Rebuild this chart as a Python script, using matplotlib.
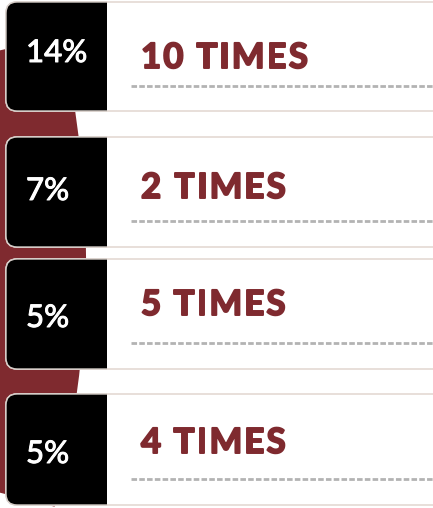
import matplotlib
matplotlib.use('Agg')
import matplotlib.pyplot as plt
import matplotlib.patheffects as pe
from matplotlib.patches import FancyBboxPatch, Rectangle, Wedge
from matplotlib.font_manager import FontProperties

# ---- data ----
shares = [14, 7, 5, 5]
multipliers = [10, 2, 5, 4]
pct_labels = [f"{v}%" for v in shares]
labels = [f"{m} TIMES" for m in multipliers]

# ---- layout ----
W, H = 433, 508
RED = '#7f2a2f'
card_top = [2, 137, 259, 394]
card_bot = [111, 247, 369, 505]
pct_base = [62, 200, 327, 463]
lab_base = [68, 198, 315, 453]
dash_y = [86, 221, 343, 479]

fig = plt.figure(figsize=(W / 100, H / 100), dpi=100)
ax = fig.add_axes([0, 0, 1, 1])
ax.set_xlim(0, W)
ax.set_ylim(H, 0)
ax.axis('off')

# background decorative disc
ax.add_patch(Wedge((-914, 258), 1000, -12.8, 14.4, facecolor=RED, edgecolor='none', zorder=1))

renderer = fig.canvas.get_renderer()
lab_fp = FontProperties(family='Lato', weight='bold', size=25)
pct_fp = FontProperties(family='Lato', weight='normal', size=22.5)


def txt_w(s, fp):
    w, h, d = renderer.get_text_width_height_descent(s, fp, ismath=False)
    return w


def adv(prefix, fp):
    if not prefix:
        return 0.0
    return txt_w(prefix + 'I', fp) - txt_w('I', fp)


natural = txt_w(labels[0], lab_fp)
spacing = (167 - natural) / (len(labels[0]) - 1)

for i in range(len(shares)):
    t, b = card_top[i], card_bot[i]
    h = b - t
    # full card (white with light border)
    ax.add_patch(FancyBboxPatch((6, t), 460, h, boxstyle='round,pad=0,rounding_size=11',
                                facecolor='white', edgecolor='#e6dcd7', linewidth=1.3, zorder=2))
    # black block with rounded left corners
    blk = FancyBboxPatch((6, t), 130, h, boxstyle='round,pad=0,rounding_size=11',
                         facecolor='black', edgecolor='#d6cec9', linewidth=1.0, zorder=3)
    ax.add_patch(blk)
    clip = Rectangle((0, t - 5), 107, h + 10, transform=ax.transData)
    blk.set_clip_path(clip)
    # dashed line
    ax.plot([131, 440], [dash_y[i], dash_y[i]], color='#b3b3b3', linewidth=2.0,
            dashes=[2.0, 0.8], zorder=4, dash_capstyle='butt')
    # percentage
    ax.text(26, pct_base[i], pct_labels[i], color='white', fontproperties=pct_fp,
            ha='left', va='baseline', zorder=5,
            path_effects=[pe.withStroke(linewidth=0.7, foreground='white')])
    # letter-spaced label
    s = labels[i]
    for k, ch in enumerate(s):
        if ch == ' ':
            continue
        x = 141 + adv(s[:k], lab_fp) + k * spacing
        ax.text(x, lab_base[i], ch, color=RED, fontproperties=lab_fp,
                ha='left', va='baseline', zorder=5,
                path_effects=[pe.withStroke(linewidth=1.4, foreground=RED)])

fig.savefig('out.png', dpi=100)
